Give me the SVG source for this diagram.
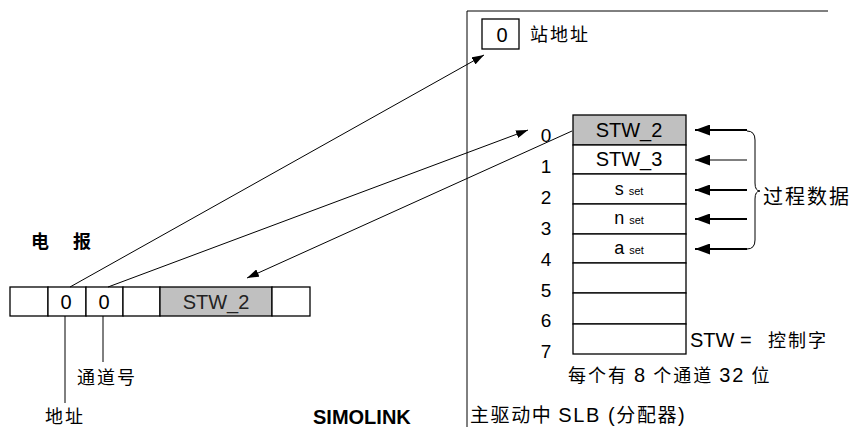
<svg xmlns="http://www.w3.org/2000/svg" width="853" height="427" viewBox="0 0 853 427">
<style>
.t{font-family:"Liberation Sans",Arial,sans-serif;fill:#000}
.c{font-family:"Noto Sans CJK SC","Liberation Sans",sans-serif;fill:#000}
.b{fill:#fff;stroke:#000;stroke-width:1.3}
.g{fill:#c0c0c0;stroke:#000;stroke-width:1.3}
.ln{stroke:#000;stroke-width:1;fill:none}
.th{stroke:#000;stroke-width:2;fill:none}
</style>
<defs>
<marker id="a" viewBox="0 0 12 8" refX="12" refY="4" markerWidth="12" markerHeight="8" markerUnits="userSpaceOnUse" orient="auto">
<path d="M0,0 L12,4 L0,8 Z" fill="#000"/>
</marker>
<marker id="A" viewBox="0 0 15 11" refX="15" refY="5.5" markerWidth="15" markerHeight="11" markerUnits="userSpaceOnUse" orient="auto">
<path d="M0,0 L15,5.5 L0,11 Z" fill="#000"/>
</marker>
</defs>

<g id="frame">
<path d="M467,427 V11 H828" class="ln" stroke-width="1.5"/>
</g>

<g id="station">
<rect x="482" y="19" width="37" height="30" class="b"/>
<text x="502" y="42" class="t" font-size="20" text-anchor="middle">0</text>
<text x="530" y="41" class="c" font-size="18" letter-spacing="2">站地址</text>
</g>

<g id="table">
<rect x="573" y="115" width="113" height="30" class="g"/>
<rect x="573" y="145" width="113" height="29" class="b"/>
<rect x="573" y="174" width="113" height="30" class="b"/>
<rect x="573" y="204" width="113" height="30" class="b"/>
<rect x="573" y="234" width="113" height="29" class="b"/>
<rect x="573" y="263" width="113" height="30" class="b"/>
<rect x="573" y="293" width="113" height="31" class="b"/>
<rect x="573" y="324" width="113" height="30" class="b"/>
<text x="629" y="137" class="t" font-size="20" text-anchor="middle">STW_2</text>
<text x="629" y="166" class="t" font-size="20" text-anchor="middle">STW_3</text>
<text x="629" y="195" class="t" font-size="18" text-anchor="middle">s <tspan font-size="11">set</tspan></text>
<text x="629" y="224" class="t" font-size="18" text-anchor="middle">n <tspan font-size="11">set</tspan></text>
<text x="629" y="254" class="t" font-size="18" text-anchor="middle">a <tspan font-size="11">set</tspan></text>
</g>

<g id="rowlabels" class="t" font-size="19" text-anchor="middle">
<text x="546" y="142">0</text>
<text x="546" y="173">1</text>
<text x="546" y="204">2</text>
<text x="546" y="235">3</text>
<text x="546" y="266">4</text>
<text x="546" y="297">5</text>
<text x="546" y="327">6</text>
<text x="546" y="358">7</text>
</g>

<g id="processdata">
<path d="M747,131 Q755,131 755,140 V183 Q755,191 760,191 Q755,191 755,199 V240 Q755,249 747,249" class="ln"/>
<text x="763" y="204" class="c" font-size="20" letter-spacing="2">过程数据</text>
</g>

<g id="legend">
<text x="690" y="347" class="t" font-size="20">STW =<tspan x="768" class="c" font-size="18" letter-spacing="2">控制字</tspan></text>
<text x="568" y="382" class="c" font-size="18" letter-spacing="2">每个有 <tspan class="t" font-size="20">8</tspan> 个通道 <tspan class="t" font-size="20">32</tspan> 位</text>
<text x="470" y="422" class="c" font-size="19" letter-spacing="1.6">主驱动中 <tspan class="t" font-size="20">SLB (</tspan>分配器<tspan class="t" font-size="20">)</tspan></text>
</g>

<g id="telegram">
<text x="31" y="248" class="c" font-size="18" font-weight="bold">电</text>
<text x="73" y="248" class="c" font-size="18" font-weight="bold">报</text>
<rect x="10" y="287" width="38" height="29" class="b"/>
<rect x="48" y="287" width="38" height="29" class="b"/>
<rect x="86" y="287" width="37" height="29" class="b"/>
<rect x="123" y="287" width="37" height="29" class="b"/>
<rect x="160" y="287" width="112" height="29" class="g"/>
<rect x="272" y="287" width="38" height="29" class="b"/>
<text x="66" y="309" class="t" font-size="20" text-anchor="middle">0</text>
<text x="104" y="309" class="t" font-size="20" text-anchor="middle">0</text>
<text x="216" y="309" font-family="Liberation Sans,Arial,sans-serif" font-size="20" fill="#222" text-anchor="middle">STW_2</text>
</g>

<g id="labels">
<text x="77" y="384" class="c" font-size="18" letter-spacing="2">通道号</text>
<text x="45" y="423" class="c" font-size="18" letter-spacing="2">地址</text>
<text x="313" y="424" class="t" font-size="20" font-weight="bold">SIMOLINK</text>
</g>

<g id="connectors">
<line x1="65" y1="316" x2="65" y2="403" class="ln"/>
<line x1="103" y1="316" x2="103" y2="362" class="ln"/>
<line x1="70" y1="287" x2="484" y2="55" class="ln" marker-end="url(#a)"/>
<line x1="108" y1="287" x2="528" y2="130" class="ln" marker-end="url(#a)"/>
<line x1="572" y1="131" x2="247" y2="278" class="ln" marker-end="url(#a)"/>
<line x1="747" y1="130" x2="695" y2="130" class="th" marker-end="url(#A)"/>
<line x1="747" y1="160" x2="695" y2="160" class="ln" marker-end="url(#A)"/>
<line x1="747" y1="190" x2="695" y2="190" class="th" marker-end="url(#A)"/>
<line x1="747" y1="219" x2="695" y2="219" class="th" marker-end="url(#A)"/>
<line x1="747" y1="249" x2="695" y2="249" class="th" marker-end="url(#A)"/>
</g>
</svg>
